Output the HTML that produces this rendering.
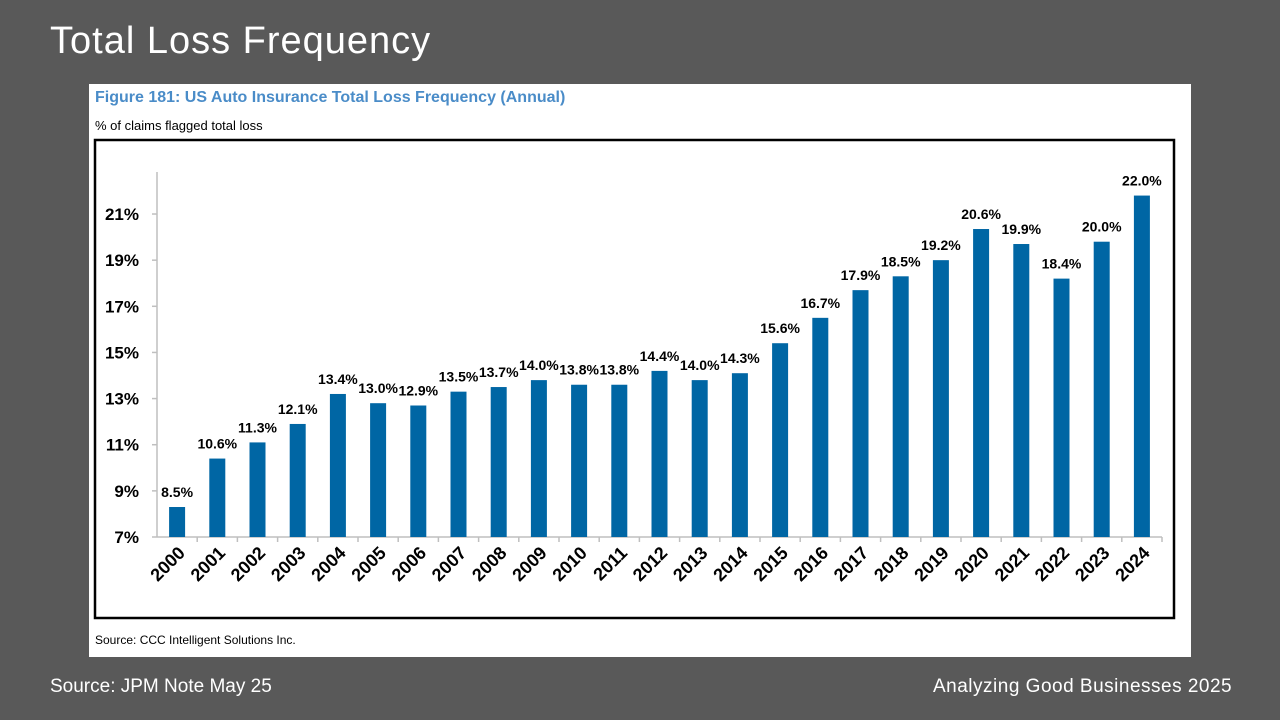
<!DOCTYPE html>
<html><head><meta charset="utf-8"><style>
body{margin:0;width:1280px;height:720px;background:#595959;overflow:hidden;font-family:"Liberation Sans",sans-serif;}
.t{position:absolute;color:#fff;}
</style></head><body>
<div class="t" style="left:50px;top:20px;font-size:38px;letter-spacing:1px;font-weight:300;">Total Loss Frequency</div>
<div style="position:absolute;left:89px;top:84px;width:1102px;height:573px;background:#fff;"></div>
<div style="position:absolute;left:95px;top:89px;font-size:16px;font-weight:bold;color:#4a8cc8;">Figure 181: US Auto Insurance Total Loss Frequency (Annual)</div>
<div style="position:absolute;left:95px;top:118px;font-size:13px;color:#000;">% of claims flagged total loss</div>
<div style="position:absolute;left:95px;top:633px;font-size:12px;color:#000;">Source: CCC Intelligent Solutions Inc.</div>
<svg id="chart" width="1280" height="720" style="position:absolute;left:0;top:0;">
<rect x="95" y="140" width="1079" height="478" fill="none" stroke="#000" stroke-width="2.5"/>
</svg>
<div class="t" style="left:50px;top:676px;font-size:19px;">Source: JPM Note May 25</div>
<div class="t" style="left:933px;top:676px;font-size:19px;letter-spacing:0.5px;">Analyzing Good Businesses 2025</div>
<script>
const categories=["2000","2001","2002","2003","2004","2005","2006","2007","2008","2009","2010","2011","2012","2013","2014","2015","2016","2017","2018","2019","2020","2021","2022","2023","2024"];
const values=[8.3,10.4,11.1,11.9,13.2,12.8,12.7,13.3,13.5,13.8,13.6,13.6,14.2,13.8,14.1,15.4,16.5,17.7,18.3,19.0,20.35,19.7,18.2,19.8,21.8];
const labels=["8.5%","10.6%","11.3%","12.1%","13.4%","13.0%","12.9%","13.5%","13.7%","14.0%","13.8%","13.8%","14.4%","14.0%","14.3%","15.6%","16.7%","17.9%","18.5%","19.2%","20.6%","19.9%","18.4%","20.0%","22.0%"];
const ticks=[7,9,11,13,15,17,19,21];
const svg=document.getElementById('chart');const NS='http://www.w3.org/2000/svg';
const x0=157,step=40.2,y0=537,ppu=23.07;
const y=v=>y0-(v-7)*ppu;
function mk(t,a){const e=document.createElementNS(NS,t);for(const k in a)e.setAttribute(k,a[k]);svg.appendChild(e);return e;}
let ax=mk('line',{x1:x0,y1:172,x2:x0,y2:y0,stroke:'#bfbfbf','stroke-width':1.5});


let bx=mk('line',{x1:x0,y1:y0,x2:x0+step*25,y2:y0,stroke:'#bfbfbf','stroke-width':1.5});


ticks.forEach(t=>{mk('line',{x1:x0-5,y1:y(t),x2:x0,y2:y(t),stroke:'#bfbfbf','stroke-width':1.5});
const e=mk('text',{x:x0-18,y:y(t)+6,'text-anchor':'end','font-size':17,'font-weight':'bold',fill:'#000'});e.textContent=t+'%';

});
categories.forEach((c,i)=>{const cx=x0+step*(i+0.5);
mk('line',{x1:x0+step*(i+1),y1:y0,x2:x0+step*(i+1),y2:y0+5,stroke:'#bfbfbf','stroke-width':1.5});
const b=mk('rect',{x:cx-8,y:y(values[i]),width:16,height:y0-y(values[i]),fill:'#0066a4'});


const l=mk('text',{x:cx,y:y(values[i])-10,'text-anchor':'middle','font-size':14,'font-weight':'bold',fill:'#000'});l.textContent=labels[i];


const tx=mk('text',{x:cx+9,y:y0+17,'text-anchor':'end','font-size':18,'font-weight':'bold',fill:'#000',transform:`rotate(-45 ${cx+9} ${y0+17})`});tx.textContent=c;

});
</script>
</body></html>
